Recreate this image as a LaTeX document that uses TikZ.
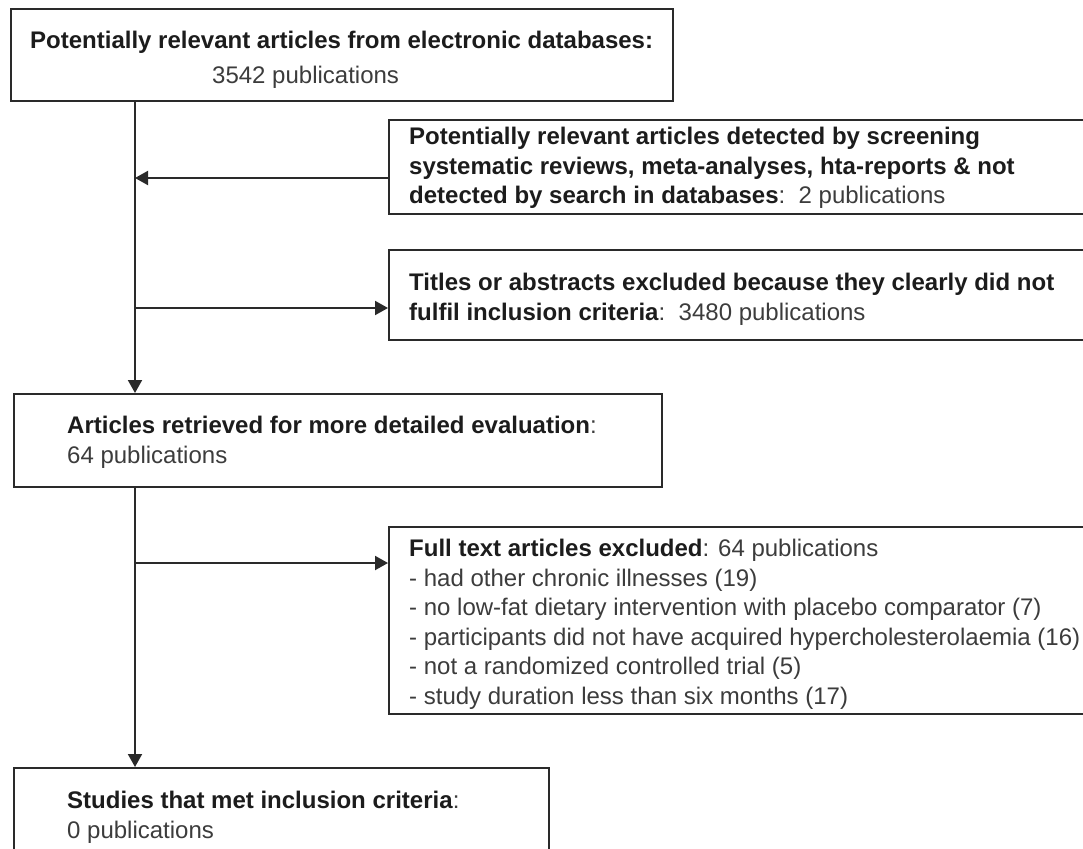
\documentclass[tikz,border=0pt]{standalone}
\usepackage{fontspec}
\setmainfont{Liberation Sans}
\usetikzlibrary{arrows.meta}
\definecolor{linec}{HTML}{2A2A2A}
\definecolor{boldc}{HTML}{1C1C1C}
\definecolor{regc}{HTML}{3C3C3C}
\begin{document}
\begin{tikzpicture}[x=1pt,y=-1pt,
  box/.style={draw=linec,line width=2.4pt,rectangle,inner sep=0pt,anchor=north west},
  txt/.style={anchor=north west,inner sep=0pt,align=left,text=regc,
    font=\fontsize{24}{29.5}\selectfont},
  conn/.style={draw=linec,line width=2pt},
  arr/.style={conn,-{Triangle[length=13pt,width=14pt]}}]
\useasboundingbox[fill=white] (0,0) rectangle (1083,848);
% boxes
\node[box,minimum width=662pt,minimum height=92pt] (b1) at (10,8) {};
\node[box,minimum width=710pt,minimum height=94pt] (b2) at (388,119) {};
\node[box,minimum width=710pt,minimum height=90pt] (b3) at (388,249) {};
\node[box,minimum width=648pt,minimum height=93pt] (b4) at (13,393) {};
\node[box,minimum width=710pt,minimum height=187pt] (b5) at (388,526) {};
\node[box,minimum width=535pt,minimum height=100pt] (b6) at (13,767) {};
% texts
\node[txt] (t1a) at (30,31) {\textcolor{boldc}{\textbf{Potentially relevant articles from electronic databases:}}};
\node[txt] (t1b) at (212,66) {3542 publications};
\node[txt] (t2) at (409,127) {\textcolor{boldc}{\textbf{Potentially relevant articles detected by screening}}\\
\textcolor{boldc}{\textbf{systematic reviews, meta-analyses, hta-reports \& not}}\\
\textcolor{boldc}{\textbf{detected by search in databases}}:\ \ 2 publications};
\node[txt] (t3) at (409,273) {\textcolor{boldc}{\textbf{Titles or abstracts excluded because they clearly did not}}\\
\textcolor{boldc}{\textbf{fulfil inclusion criteria}}:\ \ 3480 publications};
\node[txt] (t4) at (67,416) {\textcolor{boldc}{\textbf{Articles retrieved for more detailed evaluation}}:\\
64 publications};
\node[txt] (t5) at (409,539) {\textcolor{boldc}{\textbf{Full text articles excluded}}: 64 publications\\
- had other chronic illnesses (19)\\
- no low-fat dietary intervention with placebo comparator (7)\\
- participants did not have acquired hypercholesterolaemia (16)\\
- not a randomized controlled trial (5)\\
- study duration less than six months (17)};
\node[txt] (t6) at (67,791) {\textcolor{boldc}{\textbf{Studies that met inclusion criteria}}:\\
0 publications};
% connectors
\coordinate (spine) at (135,0);
\coordinate (j1) at (135,178);
\coordinate (j2) at (135,308);
\coordinate (j3) at (135,563);
\draw[arr] (b1.south -| spine) -- (b4.north -| spine);
\draw[arr] (b2.west |- j1) -- (j1);
\draw[arr] (j2) -- (b3.west |- j2);
\draw[arr] (b4.south -| spine) -- (b6.north -| spine);
\draw[arr] (j3) -- (b5.west |- j3);
\end{tikzpicture}
\end{document}
